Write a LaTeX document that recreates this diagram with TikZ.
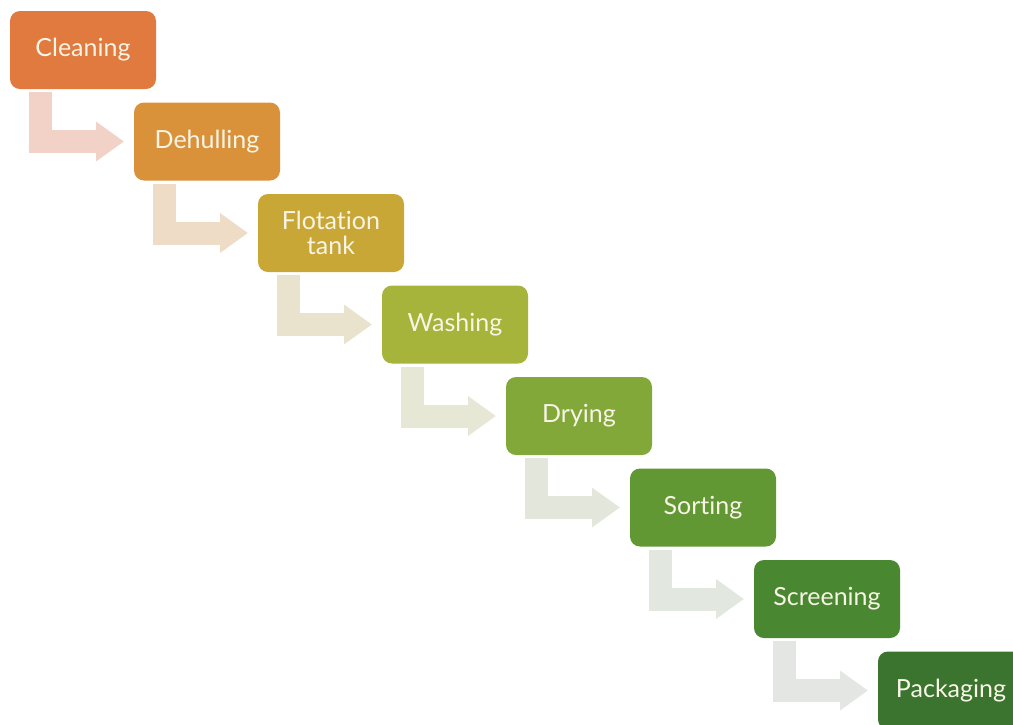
\documentclass[tikz,border=0pt]{standalone}
\usepackage{fontspec}
\setmainfont{Lato}[Ligatures=NoCommon]
\usetikzlibrary{arrows.meta, positioning}
\usepackage{xcolor}
% box fills, orange down to dark green
\definecolor{cleanC}{HTML}{E07A3E}
\definecolor{dehullC}{HTML}{D9923A}
\definecolor{flotC}{HTML}{C9A736}
\definecolor{washC}{HTML}{A6B43B}
\definecolor{dryC}{HTML}{82A83A}
\definecolor{sortC}{HTML}{619834}
\definecolor{screenC}{HTML}{4A8731}
\definecolor{packC}{HTML}{3A742E}
% pale arrow fills
\definecolor{arrA}{HTML}{F2D2C6}
\definecolor{arrB}{HTML}{EEDCC6}
\definecolor{arrC}{HTML}{E9E2CC}
\definecolor{arrD}{HTML}{E6E7D4}
\definecolor{arrE}{HTML}{E3E7DB}
\definecolor{arrF}{HTML}{E2E7DF}
\definecolor{arrG}{HTML}{E3E6E2}
\definecolor{boxtext}{HTML}{F8F4E6}
\tikzset{
  stepbox/.style={rectangle, rounded corners=10pt, minimum width=146pt,
    minimum height=78pt, align=center, text=boxtext, inner sep=0pt,
    outer sep=0pt, font=\fontsize{25}{25}\selectfont},
  flowarr/.style={line width=23pt, line join=miter,
    -{Triangle[length=28pt, width=38pt]}},
}

\begin{document}
\begin{tikzpicture}[node distance=13.5pt and -22pt]
  \useasboundingbox (0,0) rectangle (1013pt,-724pt);
  \clip (0,0) rectangle (1013pt,-724pt);

  % process steps
  \node[stepbox, fill=cleanC] (clean) at (83pt,-50pt) {Cleaning};
  \node[stepbox, fill=dehullC, below right=of clean] (dehull) {Dehulling};
  \node[stepbox, fill=flotC, below right=of dehull] (flot) {Flotation\\tank};
  \node[stepbox, fill=washC, below right=of flot] (wash) {Washing};
  \node[stepbox, fill=dryC, below right=of wash] (dry) {Drying};
  \node[stepbox, fill=sortC, below right=of dry] (sort) {Sorting};
  \node[stepbox, fill=screenC, below right=of sort] (screen) {Screening};
  \node[stepbox, fill=packC, below right=of screen] (pack) {Packaging};

  % bent arrows between steps
  \draw[flowarr, arrA] ([xshift=30pt, yshift=-3pt]clean.south west) |- ([xshift=-10pt]dehull.west);
  \draw[flowarr, arrB] ([xshift=30pt, yshift=-3pt]dehull.south west) |- ([xshift=-10pt]flot.west);
  \draw[flowarr, arrC] ([xshift=30pt, yshift=-3pt]flot.south west) |- ([xshift=-10pt]wash.west);
  \draw[flowarr, arrD] ([xshift=30pt, yshift=-3pt]wash.south west) |- ([xshift=-10pt]dry.west);
  \draw[flowarr, arrE] ([xshift=30pt, yshift=-3pt]dry.south west) |- ([xshift=-10pt]sort.west);
  \draw[flowarr, arrF] ([xshift=30pt, yshift=-3pt]sort.south west) |- ([xshift=-10pt]screen.west);
  \draw[flowarr, arrG] ([xshift=30pt, yshift=-3pt]screen.south west) |- ([xshift=-10pt]pack.west);
\end{tikzpicture}
\end{document}
